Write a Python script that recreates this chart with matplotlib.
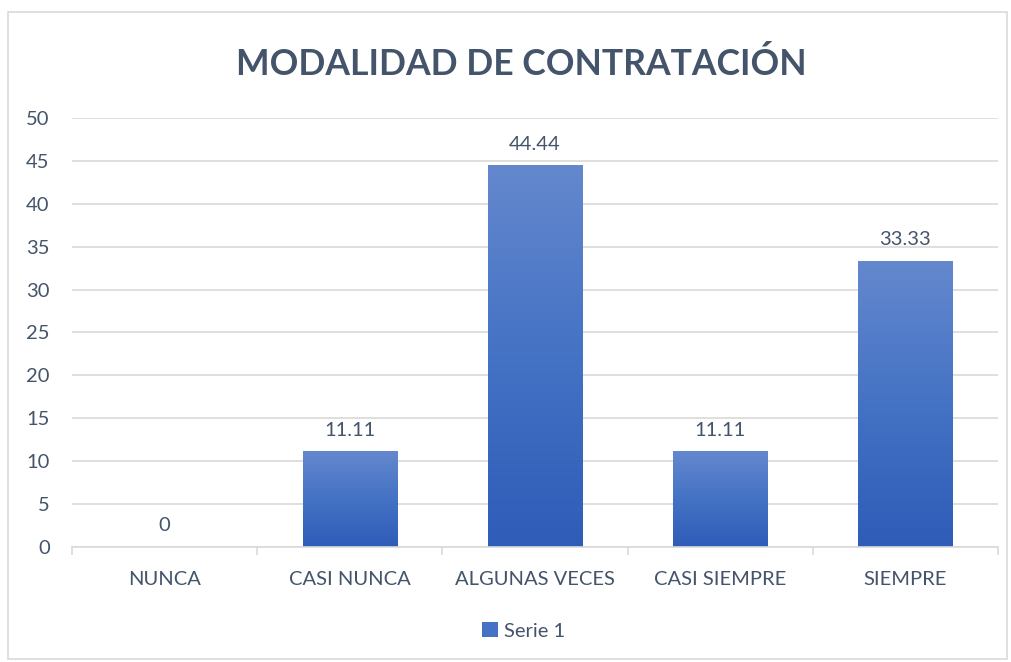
import numpy as np
import matplotlib.pyplot as plt
from matplotlib.colors import LinearSegmentedColormap
from matplotlib.patches import Rectangle, Patch

categories = ['NUNCA', 'CASI NUNCA', 'ALGUNAS VECES', 'CASI SIEMPRE', 'SIEMPRE']
values = [0, 11.11, 44.44, 11.11, 33.33]
labels = ['0', '11.11', '44.44', '11.11', '33.33']
yticks = [0, 5, 10, 15, 20, 25, 30, 35, 40, 45, 50]

text_color = '#44546A'
grid_color = '#D9D9D9'
plt.rcParams['font.family'] = ['Lato', 'DejaVu Sans']

fig = plt.figure(figsize=(10.11, 6.62), dpi=100)
ax = fig.add_axes([0.0712, 0.1737, 0.9158, 0.6481])

# gradient fill, lighter at the top
cmap = LinearSegmentedColormap.from_list('blu', ['#2E5CB8', '#4472C4', '#6488CE'])
grad = np.linspace(0, 1, 256).reshape(-1, 1)

x = np.arange(len(categories))
width = 0.51
for xi, v, lab in zip(x, values, labels):
    if v > 0:
        ax.imshow(grad, extent=[xi - width / 2, xi + width / 2, 0, v], origin='lower',
                  aspect='auto', cmap=cmap, zorder=2)
    ax.text(xi, v + 1.5, lab, ha='center', va='bottom', fontsize=14.5, color=text_color)

ax.set_xlim(-0.5, len(categories) - 0.5)
ax.set_ylim(0, 50)
ax.set_yticks(yticks)
ax.set_xticks(x)
ax.set_xticklabels(categories)
ax.tick_params(axis='x', length=0, pad=17, labelsize=14.5, labelcolor=text_color)
ax.tick_params(axis='y', length=0, pad=16, labelsize=14.5, labelcolor=text_color)
ax.set_xticks(np.arange(-0.5, len(categories), 1), minor=True)
ax.tick_params(axis='x', which='minor', length=6, color=grid_color, width=1.2, direction='out')
ax.grid(True, axis='y', color=grid_color, linewidth=1.2, zorder=0)
ax.set_axisbelow(True)
for s in ['top', 'right', 'left']:
    ax.spines[s].set_visible(False)
ax.spines['bottom'].set_color(grid_color)
ax.spines['bottom'].set_linewidth(1.2)

fig.text(0.516, 0.903, 'MODALIDAD DE CONTRATACIÓN', ha='center', va='center',
         fontsize=25.6, fontweight='bold', color=text_color)

handle = Patch(facecolor='#4472C4', edgecolor='none')
fig.legend([handle], ['Serie 1'], loc='center', bbox_to_anchor=(0.518, 0.047),
           frameon=False, fontsize=14.5, labelcolor=text_color,
           handlelength=0.8, handleheight=0.8, handletextpad=0.3)

fig.patches.append(Rectangle((0.008, 0.004), 0.988, 0.978, transform=fig.transFigure,
                             fill=False, edgecolor=grid_color, linewidth=1.2))

fig.savefig('out.png', dpi=100)
